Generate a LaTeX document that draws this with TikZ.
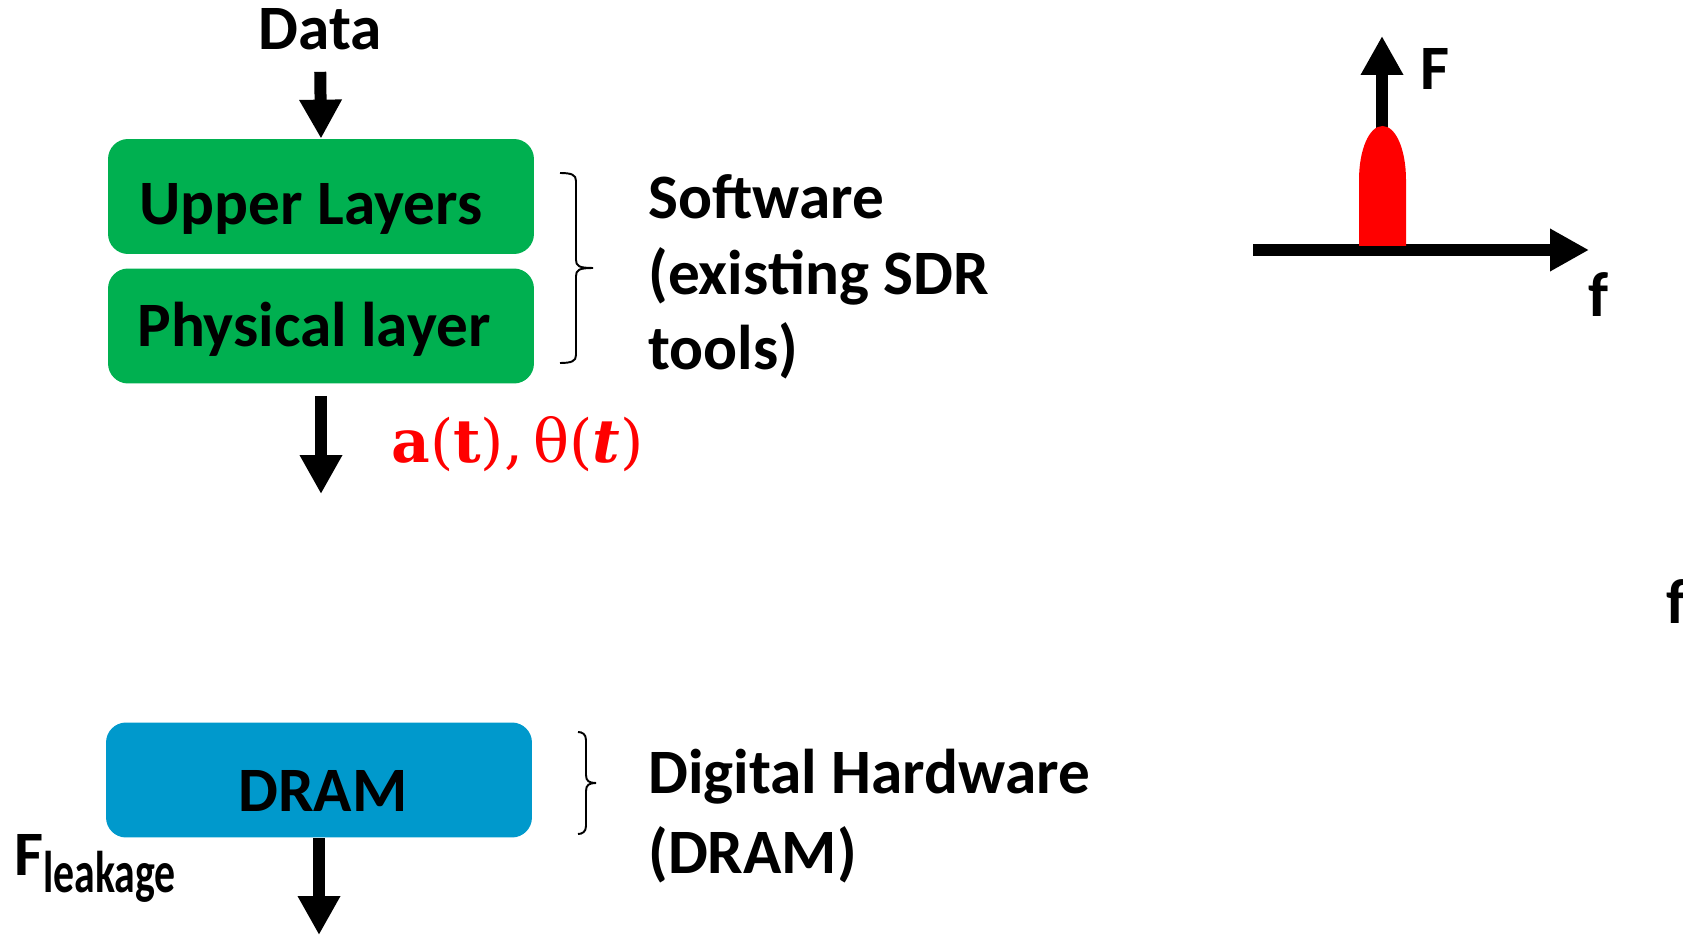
\documentclass[tikz,border=0pt]{standalone}
\usepackage{fontspec}
\usepackage{graphicx}
\setmainfont{Carlito}
\newfontfamily\formulafont{DejaVu Serif}
\usetikzlibrary{arrows.meta}

\definecolor{layerGreen}{RGB}{0,176,80}
\definecolor{dramBlue}{RGB}{0,153,204}

\begin{document}
\begin{tikzpicture}
[x=0.02cm, y=-0.02cm,%
  bigArrow/.style={-{Triangle[length=0.78cm,width=0.8cm]},line width=0.24cm},%
  layerBox/.style={rounded corners=0.4cm,minimum width=8.52cm,minimum height=2.3cm,text depth=0pt},%
  bigText/.style={inner sep=0pt,font=\bfseries\fontsize{36}{43.2}\selectfont},%
  bracket/.style={line width=1.1pt}]
\useasboundingbox (0,0) rectangle (1683,935);

%% the stack on the left
\node[bigText, anchor=base] (data) at (320,50) {Data};
\node[layerBox, bigText, fill=layerGreen, text height=1.14cm] (upper) at (321,196.5) {Upper Layers\hspace*{0.4cm}};
\node[layerBox, bigText, fill=layerGreen, text height=0.84cm] (phys) at (321,326) {Physical layer\hspace*{0.28cm}};
\node[layerBox, bigText, fill=dramBlue, text height=1.28cm] (dram) at (319,780) {\hspace*{0.16cm}DRAM};
\coordinate (physOut) at (321,494);
\coordinate (dramOut) at (319,935);

\draw[bigArrow, shorten <=0.42cm] (data.south) -- (upper.north);
\draw[bigArrow, shorten <=0.24cm] (phys.south) -- (physOut);
\draw[bigArrow] (dram.south) -- (dramOut);

\node[anchor=base west, inner sep=0pt, text=red, font=\formulafont\fontsize{34}{40}\selectfont] (amp) at (391,462)
  {\textbf{a}(\textbf{t}),\,θ(\textbf{\textit{t}})};
\node[bigText, anchor=base west] (leak) at (14,875)
  {F\raisebox{-0.34cm}{\fontsize{33.5}{36}\selectfont\scalebox{0.71}[1]{leakage}}};

%% braces and their texts
\foreach \xl/\xv/\xt/\yt/\ym/\yb in {560/576/593/173/268/363, 578/586/596/732/783/834}
{
  \draw[bracket] (\xl,\yt) .. controls (\xv-4,\yt) and (\xv,\yt+2) .. (\xv,\yt+8) -- (\xv,\ym-8)
    .. controls (\xv,\ym-2) and (\xv+3,\ym) .. (\xt,\ym)
    .. controls (\xv+3,\ym) and (\xv,\ym+2) .. (\xv,\ym+8) -- (\xv,\yb-8)
    .. controls (\xv,\yb-2) and (\xv-4,\yb) .. (\xl,\yb);
}
%% base of a multi-line node sits on its last line
\node[bigText, anchor=base west, align=left] (sw) at (648,370) {Software\\(existing SDR\\tools)};
\node[bigText, anchor=base west, align=left, font=\bfseries\fontsize{36}{45.5}\selectfont] (hw) at (648,873)
  {Digital Hardware\\(DRAM)};

%% spectrum on the right
\coordinate (axisStart) at (1253,250);
\coordinate (axisEnd) at (1589,250);
\coordinate (peakFoot) at (1382,250);
\coordinate (peakTop) at (1382,36);
\draw[bigArrow] (axisStart) -- (axisEnd);
\draw[bigArrow] (peakFoot) -- (peakTop);
\fill[red] (1359,246) -- (1359,180) .. controls (1359,150) and (1369,126) .. (1382.5,126)
  .. controls (1396,126) and (1406,150) .. (1406,180) -- (1406,246) -- cycle;
\node[bigText, anchor=base west] (forceLabel) at (1420,90) {F};
\node[bigText, anchor=base west] (freqLabel) at (1588,317) {f};
\node[bigText, anchor=base west] (freqLabelB) at (1666,623) {f};
\end{tikzpicture}
\end{document}
